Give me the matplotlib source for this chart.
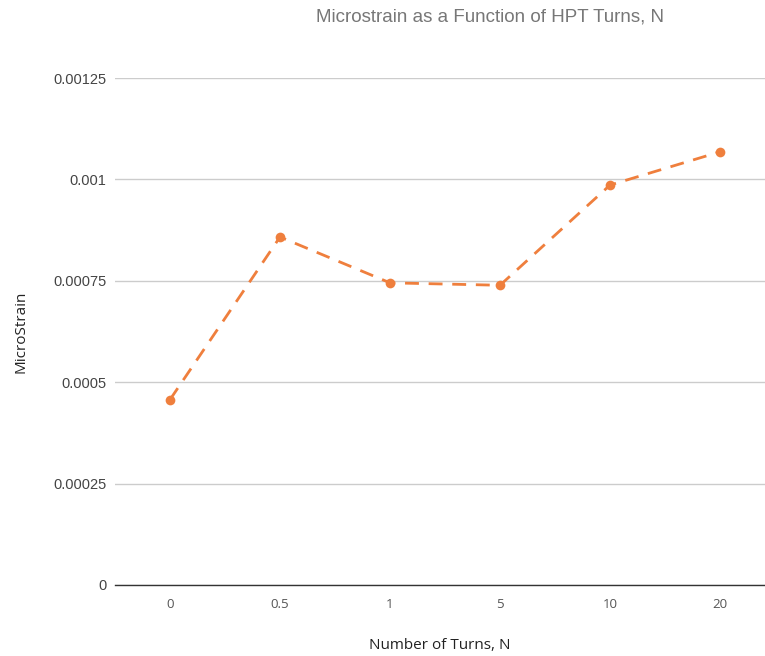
import matplotlib.pyplot as plt

turns = ["0", "0.5", "1", "5", "10", "20"]
microstrain = [0.000457, 0.000858, 0.000745, 0.000739, 0.000986, 0.001068]
y_ticks = [0, 0.00025, 0.0005, 0.00075, 0.001, 0.00125]
y_tick_labels = ["0", "0.00025", "0.0005", "0.00075", "0.001", "0.00125"]

orange = "#ef7f3d"

fig = plt.figure(figsize=(7.65, 6.56), dpi=100)
ax = fig.add_axes([115 / 765, 71 / 656, 650 / 765, 507 / 656])

x = list(range(len(turns)))
ax.plot(x, microstrain, color=orange, linewidth=2, linestyle=(0, (5, 3.5)),
        marker="o", markersize=7, markeredgewidth=0, zorder=3)

ax.set_xlim(-0.5, -0.5 + 650 / 110)
ax.set_ylim(0, 0.00125)

ax.set_yticks(y_ticks)
ax.set_yticklabels(y_tick_labels, family="Liberation Sans", fontsize=10.5, color="#444444")
ax.set_xticks(x)
ax.set_xticklabels(turns, family="Open Sans", fontsize=9.5, color="#555555")
ax.tick_params(axis="both", length=0)
ax.tick_params(axis="y", pad=6)
ax.tick_params(axis="x", pad=9)

ax.grid(axis="y", color="#cccccc", linewidth=1)
ax.set_axisbelow(True)
for side in ["top", "right", "left"]:
    ax.spines[side].set_visible(False)
ax.spines["bottom"].set_color("#333333")
ax.spines["bottom"].set_linewidth(1)

ax.set_xlabel("Number of Turns, N", family="Open Sans", fontsize=11, color="#222222", labelpad=20)
ax.set_ylabel("MicroStrain", family="Open Sans", fontsize=11, color="#222222", labelpad=18)

fig.text(490 / 765, 1 - 17 / 656, "Microstrain as a Function of HPT Turns, N",
         family="Liberation Sans", fontsize=13.5, color="#777777", ha="center", va="center")

fig.savefig("out.png", dpi=100)
